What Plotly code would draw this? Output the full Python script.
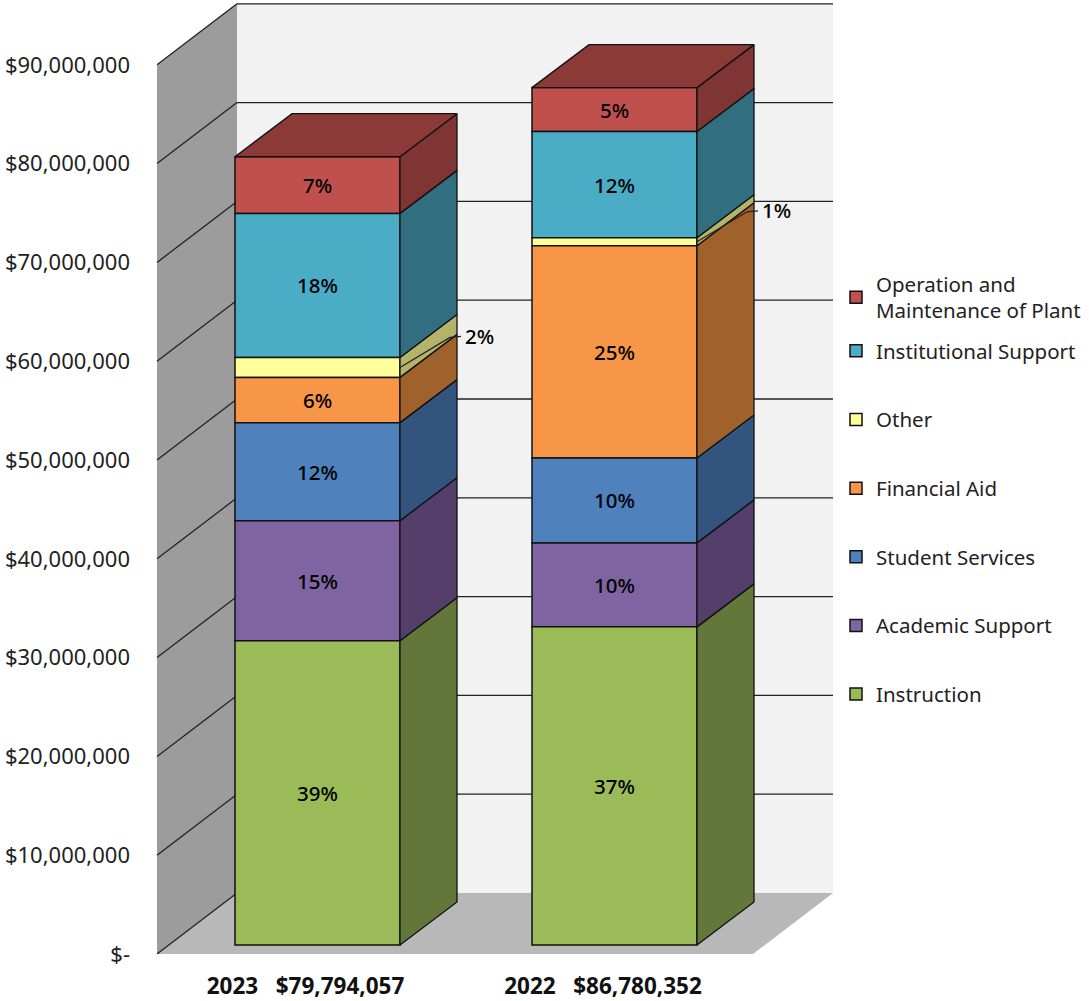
import plotly.graph_objects as go

# --- data ---
years = ["2023", "2022"]
totals = ["$79,794,057", "$86,780,352"]
series = ["Instruction", "Academic Support", "Student Services", "Financial Aid", "Other",
          "Institutional Support", "Operation and<br>Maintenance of Plant"]
values_2023 = [30.80e6, 12.15e6, 9.92e6, 4.58e6, 2.02e6, 14.58e6, 5.74e6]
values_2022 = [32.20e6, 8.50e6, 8.60e6, 21.47e6, 0.81e6, 10.75e6, 4.45e6]
pct_2023 = ["39%", "15%", "12%", "6%", "2%", "18%", "7%"]
pct_2022 = ["37%", "10%", "10%", "25%", "1%", "12%", "5%"]
axis_ticks = [0, 10e6, 20e6, 30e6, 40e6, 50e6, 60e6, 70e6, 80e6, 90e6]
axis_labels = ["$-", "$10,000,000", "$20,000,000", "$30,000,000", "$40,000,000", "$50,000,000",
               "$60,000,000", "$70,000,000", "$80,000,000", "$90,000,000"]

# --- style ---
front = ["#9BBB59", "#8064A2", "#4F81BD", "#F79646", "#FFFF99", "#4BACC6", "#C0504D"]
side = ["#64773A", "#533F6A", "#32547F", "#A0622D", "#B3B36B", "#306E80", "#7F3533"]
top_colour = "#8B3A38"
FONT = "Noto Sans"
PX = 9.88e-6               # pixels per dollar on the value axis
LEFT, BOTTOM = 135, 47
W, H = 1089, 1001
plot_h = H - BOTTOM
px = lambda p: p / PX      # vertical pixel offset expressed in dollars

wall_x0, wall_dx, wall_dy = 157, 80, px(61)
floor_w = 596
bar_left = [235, 532]
bar_w = 165
bar_dx, bar_dy = 57, px(43)
bar_lift = px(9)

fig = go.Figure()

# walls, floor and gridlines
top_v = axis_ticks[-1]
wx1 = wall_x0 + wall_dx
def poly(pts):
    return "M" + " L".join(f"{x},{y}" for x, y in pts) + " Z"
shapes = [
    dict(type="path", path=poly([(wx1, wall_dy), (wx1 + floor_w, wall_dy), (wx1 + floor_w, top_v + wall_dy), (wx1, top_v + wall_dy)]),
         fillcolor="#F2F2F2", line_width=0, layer="below"),
    dict(type="path", path=poly([(wall_x0, 0), (wx1, wall_dy), (wx1, top_v + wall_dy), (wall_x0, top_v)]),
         fillcolor="#9C9C9C", line_width=0, layer="below"),
    dict(type="path", path=poly([(wall_x0, 0), (wx1, wall_dy), (wx1 + floor_w, wall_dy), (wall_x0 + floor_w, 0)]),
         fillcolor="#B8B8B8", line_width=0, layer="below"),
]
for t in axis_ticks:
    shapes.append(dict(type="line", x0=wall_x0, y0=t, x1=wx1, y1=t + wall_dy, line=dict(color="#222", width=1.3), layer="below"))
    if t > 0:
        shapes.append(dict(type="line", x0=wx1, y0=t + wall_dy, x1=wx1 + floor_w, y1=t + wall_dy, line=dict(color="#222", width=1.3), layer="below"))

# front faces (added top series first so the legend reads top-down like the stack)
columns = [values_2023, values_2022]
pcts = [pct_2023, pct_2022]
centres = [b + bar_w / 2 for b in bar_left]
for i in reversed(range(len(series))):
    name = series[i]
    bases, heights = [], []
    for col in columns:
        bases.append(bar_lift + sum(col[:i]))
        heights.append(col[i])
    labels = ["" if name == "Other" else p[i] for p in pcts]
    fig.add_trace(go.Bar(
        x=centres, y=heights, base=bases, width=bar_w, name=name,
        marker=dict(color=front[i], line=dict(color="#111", width=1.5)),
        text=labels, textposition="inside", insidetextanchor="middle", textangle=0,
        textfont=dict(family=FONT, size=20.5, color="black", weight=500), constraintext="none",
        legendgroup=name, legend="legend2" if i == len(series) - 1 else "legend", hoverinfo="skip",
    ))

# side and top faces
for b, col in zip(bar_left, columns):
    xr = b + bar_w
    cum = bar_lift
    for i, v in enumerate(col):
        y0, y1 = cum, cum + v
        fig.add_trace(go.Scatter(
            x=[xr, xr + bar_dx, xr + bar_dx, xr, xr], y=[y0, y0 + bar_dy, y1 + bar_dy, y1, y0],
            mode="lines", fill="toself", fillcolor=side[i], line=dict(color="#111", width=1.3),
            showlegend=False, hoverinfo="skip"))
        cum = y1
    fig.add_trace(go.Scatter(
        x=[b, xr, xr + bar_dx, b + bar_dx, b], y=[cum, cum, cum + bar_dy, cum + bar_dy, cum],
        mode="lines", fill="toself", fillcolor=top_colour, line=dict(color="#111", width=1.3),
        showlegend=False, hoverinfo="skip"))

# leader lines and the outside labels of the thin "Other" slice
OTHER = series.index("Other")
for b, col, p in zip(bar_left, columns, pcts):
    xr = b + bar_w
    mid = bar_lift + sum(col[:OTHER]) + col[OTHER] / 2
    fig.add_trace(go.Scatter(
        x=[xr, xr + 50, xr + 61], y=[mid, mid + px(30), mid + px(31)],
        mode="lines", line=dict(color="#222", width=1.2),
        showlegend=False, hoverinfo="skip"))
    fig.add_trace(go.Scatter(
        x=[xr + 65], y=[mid + px(29)], mode="text",
        text=[p[OTHER]], textposition="middle right",
        textfont=dict(family=FONT, size=20.5, color="black", weight=500),
        showlegend=False, hoverinfo="skip"))

lg = dict(bgcolor="rgba(0,0,0,0)", borderwidth=0, font=dict(family=FONT, size=20.5, color="#222"),
          itemwidth=30, xanchor="left", yanchor="top", x=(836 - LEFT) / (W - LEFT))

fig.update_layout(
    width=W, height=H, autosize=False, margin=dict(l=LEFT, r=0, t=0, b=BOTTOM, pad=0),
    paper_bgcolor="white", plot_bgcolor="white", barmode="overlay",
    shapes=shapes, showlegend=True,
    legend=dict(lg, traceorder="grouped", tracegroupgap=39, y=1 - 331 / plot_h),
    legend2=dict(lg, y=1 - 264 / plot_h),
    xaxis=dict(range=[LEFT, W], tickmode="array", tickvals=[305.5, 603],
               ticktext=[f"<b>{y}\u00a0\u00a0\u00a0{t}</b>" for y, t in zip(years, totals)],
               tickfont=dict(family=FONT, size=22.5, color="#111"),
               showgrid=False, zeroline=False, showline=False, ticks="outside", ticklen=12, tickcolor="rgba(0,0,0,0)"),
    yaxis=dict(range=[0, px(plot_h)], tickmode="array", tickvals=axis_ticks, ticktext=axis_labels,
               tickfont=dict(family=FONT, size=22, color="#222"), ticklabelstandoff=4,
               showgrid=False, zeroline=False, showline=False, ticks="", ticklen=0),
)

fig.write_html("out.html", config=dict(displayModeBar=False),
               post_script="document.body.style.margin='0';document.body.style.overflow='hidden';")
